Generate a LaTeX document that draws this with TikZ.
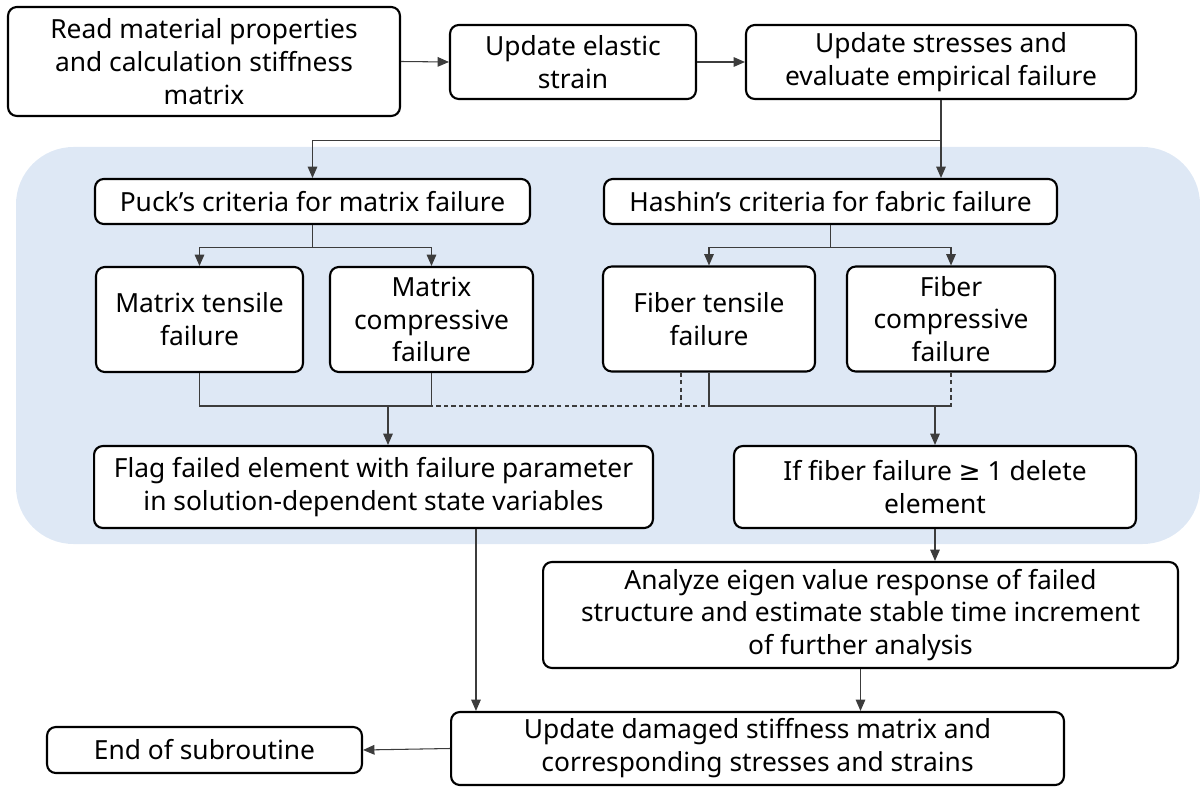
\documentclass[tikz,border=0pt]{standalone}
\usepackage{fontspec}
\setmainfont{Noto Sans}
\newfontfamily\symfont{DejaVu Sans}
\usepackage{tikz}
\usetikzlibrary{arrows.meta,positioning,calc}
\definecolor{panelblue}{HTML}{DEE8F5}
\definecolor{linegray}{HTML}{3C3C3C}
\newcommand{\boxfont}{\fontsize{15pt}{18.7pt}\selectfont}

\begin{document}
\begin{tikzpicture}[
  x=0.02cm, y=-0.02cm,
  box/.style={draw, rounded corners=5pt, line width=1.2pt, fill=white,
              align=center, inner sep=2pt, font=\boxfont},
  link/.style={line width=0.6pt, draw=linegray},
  arr/.style={link, -{Triangle[length=6.5pt,width=5.5pt]}},
  dlink/.style={link, dash pattern=on 2.5pt off 1.8pt},
  font=\boxfont
]
\useasboundingbox (0,0) rectangle (1200,787);

% shaded failure evaluation panel
\fill[panelblue, rounded corners=1.15cm] (16,147) rectangle (1200,544);

% top row
\node[box, minimum width=7.84cm, minimum height=2.18cm] (read)    at (204,61.5)
  {Read material properties\\and calculation stiffness\\matrix};
\node[box, minimum width=4.92cm, minimum height=1.48cm] (elastic) at (573,62)
  {Update elastic\\strain};
\node[box, minimum width=7.8cm,  minimum height=1.48cm] (stress)  at (941,62)
  {Update stresses and\\evaluate empirical failure};

% criteria
\node[box, minimum width=8.7cm,  minimum height=0.9cm] (puck)   at (312.5,201.5)
  {Puck’s criteria for matrix failure};
\node[box, minimum width=9.06cm, minimum height=0.9cm] (hashin) at (830.5,201.5)
  {Hashin’s criteria for fabric failure};

% failure modes
\node[box, minimum width=4.14cm, minimum height=2.1cm] (mtens) at (199.5,319.5)
  {Matrix tensile\\failure};
\node[box, minimum width=4.06cm, minimum height=2.1cm] (mcomp) at (431.5,319.5)
  {Matrix\\compressive\\failure};
\node[box, minimum width=4.24cm, minimum height=2.1cm] (ftens) at (709,319)
  {Fiber tensile\\failure};
\node[box, minimum width=4.16cm, minimum height=2.1cm] (fcomp) at (951,319)
  {Fiber\\compressive\\failure};

% results
\node[box, minimum width=11.18cm, minimum height=1.64cm] (flag)  at (373.5,487)
  {Flag failed element with failure parameter\\in solution-dependent state variables};
\node[box, minimum width=8.04cm,  minimum height=1.64cm] (ifdel) at (935,487)
  {If fiber failure {\symfont ≥} 1 delete\\element};
\node[box, minimum width=12.7cm,  minimum height=2.12cm] (analyze) at (860.5,615)
  {Analyze eigen value response of failed\\structure and estimate stable time increment\\of further analysis};
\node[box, minimum width=12.26cm, minimum height=1.46cm] (update) at (757.5,748.5)
  {Update damaged stiffness matrix and\\corresponding stresses and strains};
\node[box, minimum width=6.3cm,   minimum height=0.92cm] (endsub) at (204.5,750)
  {End of subroutine};

% bus points
\coordinate (fjoin) at (388,406);
\coordinate (djoin) at (935,406);

% connectors
\draw[arr] (read.east) -- (elastic.west);
\draw[arr] (elastic.east) -- (stress.west);
\draw[arr] (stress.south) -- ++(0,40) -| (puck.north);
\draw[arr] (stress.south) -- (stress.south |- hashin.north);

\draw[arr] (puck.south) -- ++(0,22) -| (mtens.north);
\draw[arr] (puck.south) -- ++(0,22) -| (mcomp.north);
\draw[arr] (hashin.south) -- ++(0,22) -| (ftens.north);
\draw[arr] (hashin.south) -- ++(0,22) -| (fcomp.north);

\draw[link] (mtens.south) |- (fjoin -| mcomp.south) -- (mcomp.south);
\draw[link] (ftens.south) |- (djoin -| fcomp.south);
\draw[dlink] ([xshift=-0.56cm]ftens.south) -- ([xshift=-0.56cm]ftens.south |- fjoin);
\draw[dlink] (fcomp.south) |- (fjoin);
\draw[arr] (fjoin) -- (fjoin |- flag.north);
\draw[arr] (djoin) -- (djoin |- ifdel.north);

\draw[arr] (ifdel.south) -- (ifdel.south |- analyze.north);
\draw[arr] (analyze.south) -- (analyze.south |- update.north);
\draw[arr] ([xshift=2.05cm]flag.south) -- ([xshift=2.05cm]flag.south |- update.north);
\draw[arr] (update.west) -- (endsub.east);

\end{tikzpicture}
\end{document}
